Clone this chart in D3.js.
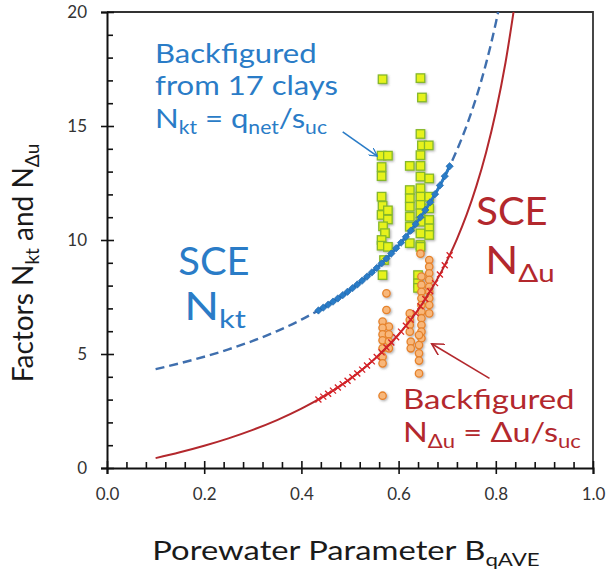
<!DOCTYPE html>
<html>
<head>
<meta charset="utf-8">
<script src="https://cdn.jsdelivr.net/npm/d3@7"></script>
<style>
  html, body { margin: 0; padding: 0; background: #fff; }
  svg { display: block; font-family: Lato, "Open Sans", sans-serif; }
</style>
</head>
<body>
<svg id="chart" width="608" height="577"></svg>
<script>
// Spherical cavity expansion (SCE) reference curves, sampled along Bq
const sceB   = [0.10, 0.15, 0.20, 0.25, 0.30, 0.35, 0.40, 0.45, 0.50, 0.55, 0.60, 0.65, 0.70, 0.72, 0.74, 0.76, 0.78, 0.80, 0.82, 0.84];
const sceNkt = [4.338, 4.593, 4.880, 5.205, 5.577, 6.006, 6.507, 7.098, 7.808, 8.676, 9.760, 11.154, 13.013, 13.943, 15.015, 16.267, 17.745, 19.520, 21.689, 24.400];
const sceNdu = [0.434, 0.689, 0.976, 1.301, 1.673, 2.102, 2.603, 3.194, 3.904, 4.772, 5.856, 7.250, 9.109, 10.039, 11.111, 12.363, 13.841, 15.616, 17.784, 20.496];

// SCE values at the Bq of the clay records (marker segments)
const markB   = [0.435, 0.445, 0.455, 0.465, 0.475, 0.485, 0.495, 0.505, 0.515, 0.525, 0.535, 0.545, 0.555, 0.565, 0.575, 0.585, 0.595, 0.605, 0.615, 0.625, 0.635, 0.645, 0.655, 0.665, 0.675, 0.685, 0.695, 0.705];
const markNkt = [6.910, 7.034, 7.163, 7.297, 7.436, 7.581, 7.731, 7.887, 8.049, 8.219, 8.396, 8.580, 8.773, 8.975, 9.186, 9.407, 9.640, 9.884, 10.140, 10.411, 10.696, 10.997, 11.316, 11.654, 12.012, 12.394, 12.800, 13.234];
const markNdu = [3.006, 3.130, 3.259, 3.393, 3.532, 3.677, 3.827, 3.983, 4.145, 4.315, 4.492, 4.676, 4.869, 5.071, 5.282, 5.503, 5.736, 5.980, 6.236, 6.507, 6.792, 7.093, 7.412, 7.750, 8.108, 8.490, 8.896, 9.330];

// Backfigured cone factors Nkt = qnet/suc
const clayB   = [0.567, 0.645, 0.648, 0.645, 0.648, 0.662, 0.645, 0.565, 0.578,
                 0.565, 0.565, 0.565, 0.567, 0.565, 0.578, 0.578, 0.568, 0.572, 0.565, 0.565, 0.578, 0.570, 0.567,
                 0.623, 0.645, 0.645, 0.663, 0.645, 0.623, 0.623, 0.645, 0.663, 0.623, 0.645, 0.663, 0.645, 0.623,
                 0.663, 0.645, 0.663, 0.623, 0.645, 0.663, 0.623, 0.645, 0.645, 0.640, 0.640, 0.640];
const clayNkt = [17.05, 17.10, 16.25, 14.65, 14.15, 14.15, 13.72, 13.70, 13.70,
                 13.20, 12.80, 11.90, 11.50, 11.10, 11.30, 10.90, 10.60, 10.30, 10.00, 9.75, 9.70, 9.12, 8.46,
                 13.25, 13.25, 12.78, 12.70, 12.27, 12.19, 11.83, 11.90, 11.90, 11.46, 11.54, 11.39, 11.17, 11.02,
                 10.88, 10.80, 10.51, 10.58, 10.29, 10.22, 9.86, 9.78, 9.70, 8.46, 8.10, 7.90];

// Backfigured porewater factors NΔu = Δu/suc
const duB   = [0.645, 0.663, 0.663, 0.663, 0.647, 0.663, 0.647, 0.663, 0.647, 0.663, 0.647, 0.663, 0.647, 0.663,
               0.663, 0.647, 0.623, 0.647, 0.623, 0.647, 0.623, 0.647, 0.623, 0.647, 0.642, 0.625, 0.642, 0.625,
               0.642, 0.642, 0.642,
               0.575, 0.575, 0.567, 0.580, 0.567, 0.567, 0.580, 0.567, 0.580, 0.567, 0.580, 0.567, 0.567, 0.567];
const duNdu = [9.40, 9.12, 8.83, 8.54, 8.40, 8.25, 8.03, 7.95, 7.73, 7.73, 7.44, 7.44, 7.15, 7.15,
               6.78, 6.86, 6.78, 6.57, 6.50, 6.27, 6.27, 5.98, 5.98, 5.69, 5.83, 5.54, 5.39, 5.25,
               5.03, 4.71, 4.15,
               7.66, 6.93, 6.42, 6.20, 6.15, 5.86, 5.86, 5.60, 5.55, 5.25, 5.25, 4.88, 4.59, 3.17];

// Axis ticks
const xMajor = [0, 0.2, 0.4, 0.6, 0.8, 1.0];
const xMinor = [0.04, 0.08, 0.12, 0.16, 0.24, 0.28, 0.32, 0.36, 0.44, 0.48, 0.52, 0.56, 0.64, 0.68, 0.72, 0.76, 0.84, 0.88, 0.92, 0.96];
const yMajor = [0, 5, 10, 15, 20];
const yMinor = [1, 2, 3, 4, 6, 7, 8, 9, 11, 12, 13, 14, 16, 17, 18, 19];

const blue = "#2a7cc7", blueDash = "#3f6fae", red = "#b3282d";

const svg = d3.select("#chart");
const x = d3.scaleLinear().domain([0, 1]).range([107, 593]);
const y = d3.scaleLinear().domain([0, 20]).range([468, 12]);

const defs = svg.append("defs");
defs.append("clipPath").attr("id", "plotClip")
  .append("rect").attr("x", x(0)).attr("y", y(20)).attr("width", x(1) - x(0)).attr("height", y(0) - y(20));
const sh = defs.append("filter").attr("id", "shadow").attr("x", "-50%").attr("y", "-50%").attr("width", "200%").attr("height", "200%");
sh.append("feDropShadow").attr("dx", 1.2).attr("dy", 1.2).attr("stdDeviation", 0.9).attr("flood-color", "#555").attr("flood-opacity", 0.45);

// Frame (top/right)
svg.append("path")
  .attr("d", `M${x(0)},${y(20)}H${x(1)}V${y(0)}`)
  .attr("fill", "none").attr("stroke", "#333").attr("stroke-width", 1.8);

// Axes
const xAxis = svg.append("g").attr("transform", `translate(0,${y(0)})`)
  .call(d3.axisBottom(x).tickValues(xMajor).tickFormat(d3.format(".1f")).tickSize(6).tickPadding(14));
xAxis.selectAll(".tick line").attr("y1", -7).attr("y2", 6);
const xMin = svg.append("g").attr("transform", `translate(0,${y(0)})`)
  .call(d3.axisBottom(x).tickValues(xMinor).tickSize(-6).tickFormat(""));
xMin.select(".domain").remove();

const yAxis = svg.append("g").attr("transform", `translate(${x(0)},0)`)
  .call(d3.axisLeft(y).tickValues(yMajor).tickSize(6).tickPadding(14));
yAxis.selectAll(".tick line").attr("x1", 7).attr("x2", -6);
const yMin = svg.append("g").attr("transform", `translate(${x(0)},0)`)
  .call(d3.axisLeft(y).tickValues(yMinor).tickSize(-6).tickFormat(""));
yMin.select(".domain").remove();

svg.selectAll(".domain").attr("stroke", "#111").attr("stroke-width", 2);
svg.selectAll(".tick line").attr("stroke", "#111").attr("stroke-width", 1.6);
svg.selectAll(".tick text").attr("font-size", 17).attr("fill", "#333").attr("font-family", "Lato, sans-serif");

// Data points
const plot = svg.append("g").attr("clip-path", "url(#plotClip)");
const sq = 8.5;
plot.append("g").attr("filter", "url(#shadow)")
  .selectAll("rect").data(d3.range(clayB.length)).join("rect")
  .attr("x", i => x(clayB[i]) - sq / 2).attr("y", i => y(clayNkt[i]) - sq / 2)
  .attr("width", sq).attr("height", sq)
  .attr("fill", "#e6f21a").attr("stroke", "#86b82a").attr("stroke-width", 1.3);

plot.append("g").attr("filter", "url(#shadow)")
  .selectAll("circle").data(d3.range(duB.length)).join("circle")
  .attr("cx", i => x(duB[i])).attr("cy", i => y(duNdu[i])).attr("r", 3.7)
  .attr("fill", "#f8b77a").attr("stroke", "#e6832c").attr("stroke-width", 1.3);

// SCE curves
const lineGen = d3.line().curve(d3.curveMonotoneX);
plot.append("path")
  .attr("d", lineGen(sceB.map((b, i) => [x(b), y(sceNkt[i])])))
  .attr("fill", "none").attr("stroke", blueDash).attr("stroke-width", 2.4)
  .attr("stroke-dasharray", "9,5");
plot.append("path")
  .attr("d", lineGen(sceB.map((b, i) => [x(b), y(sceNdu[i])])))
  .attr("fill", "none").attr("stroke", red).attr("stroke-width", 2);

// Marker segments on the SCE curves
plot.append("path")
  .attr("d", lineGen(markB.map((b, i) => [x(b), y(markNkt[i])])))
  .attr("fill", "none").attr("stroke", blue).attr("stroke-width", 3);
plot.append("g").selectAll("path").data(d3.range(markB.length)).join("path")
  .attr("transform", i => `translate(${x(markB[i])},${y(markNkt[i])}) rotate(45)`)
  .attr("d", "M-2.6,-2.6H2.6V2.6H-2.6Z")
  .attr("fill", blue).attr("stroke", "#1f64a8").attr("stroke-width", 0.6);

plot.append("g").selectAll("path").data(d3.range(markB.length)).join("path")
  .attr("transform", i => `translate(${x(markB[i])},${y(markNdu[i])})`)
  .attr("d", "M-3,-3L3,3M-3,3L3,-3")
  .attr("stroke", "#d62026").attr("stroke-width", 1.3);

// Annotation arrows
defs.append("marker").attr("id", "arrowBlue").attr("viewBox", "0 0 10 10")
  .attr("refX", 9).attr("refY", 5).attr("markerWidth", 9).attr("markerHeight", 9)
  .attr("orient", "auto").attr("markerUnits", "userSpaceOnUse")
  .append("path").attr("d", "M0,0L9,5L0,10").attr("fill", "none").attr("stroke", blue).attr("stroke-width", 1.4);
defs.append("marker").attr("id", "arrowRed").attr("viewBox", "0 0 10 10")
  .attr("refX", 9).attr("refY", 5).attr("markerWidth", 13).attr("markerHeight", 13)
  .attr("orient", "auto").attr("markerUnits", "userSpaceOnUse")
  .append("path").attr("d", "M0,0L9,5L0,10").attr("fill", "none").attr("stroke", red).attr("stroke-width", 1.2);

svg.append("line")
  .attr("x1", x(0.485)).attr("y1", y(14.74)).attr("x2", x(0.556)).attr("y2", y(13.68))
  .attr("stroke", blue).attr("stroke-width", 1.6).attr("marker-end", "url(#arrowBlue)");
svg.append("line")
  .attr("x1", x(0.787)).attr("y1", y(3.93)).attr("x2", x(0.668)).attr("y2", y(5.45))
  .attr("stroke", red).attr("stroke-width", 1.6).attr("marker-end", "url(#arrowRed)");

// Text with sub/baseline runs, horizontally widened by sx about its anchor point
function label(parent, px, py, sx, anchor, parts, size, fill, rotate) {
  const g = parent.append("g")
    .attr("transform", `translate(${px},${py})` + (rotate ? ` rotate(${rotate})` : "") + ` scale(${sx},1)`);
  const t = g.append("text").attr("x", 0).attr("y", 0)
    .attr("text-anchor", anchor).attr("font-size", size).attr("fill", fill);
  parts.forEach(p => {
    const s = t.append("tspan").text(p[0]);
    if (p[1] === "sub") s.attr("font-size", size * 0.68).attr("dy", size * 0.22);
    else if (p[1] === "base") s.attr("dy", -size * 0.22);
  });
  return t;
}

// Blue annotation
label(svg, 155, 62.5, 1.13, "start", [["Backfigured"]], 27.5, blue);
label(svg, 155, 95, 1.13, "start", [["from 17 clays"]], 27.5, blue);
label(svg, 155, 128, 1.13, "start",
  [["N"], ["kt", "sub"], [" = q", "base"], ["net", "sub"], ["/s", "base"], ["uc", "sub"]], 27.5, blue);

// SCE Nkt
label(svg, 214, 275, 1.05, "middle", [["SCE"]], 38, blue);
label(svg, 215, 320, 1.2, "middle", [["N"], ["kt", "sub"]], 38, blue);

// SCE NΔu
label(svg, 512, 225, 1.05, "middle", [["SCE"]], 38, red);
label(svg, 520, 274, 1.14, "middle", [["N"], ["Δu", "sub"]], 38, red);

// Red annotation
label(svg, 403, 409, 1.2, "start", [["Backfigured"]], 27.5, red);
label(svg, 403, 442, 1.18, "start",
  [["N"], ["Δu", "sub"], [" = Δu/s", "base"], ["uc", "sub"]], 27.5, red);

// Axis titles
label(svg, 346, 560, 1.26, "middle", [["Porewater Parameter B"], ["qAVE", "sub"]], 26, "#1a1a1a");
label(svg, 33, 263, 1.0, "middle",
  [["Factors N"], ["kt", "sub"], [" and N", "base"], ["Δu", "sub"]], 28, "#1a1a1a", -90);
</script>
</body>
</html>
